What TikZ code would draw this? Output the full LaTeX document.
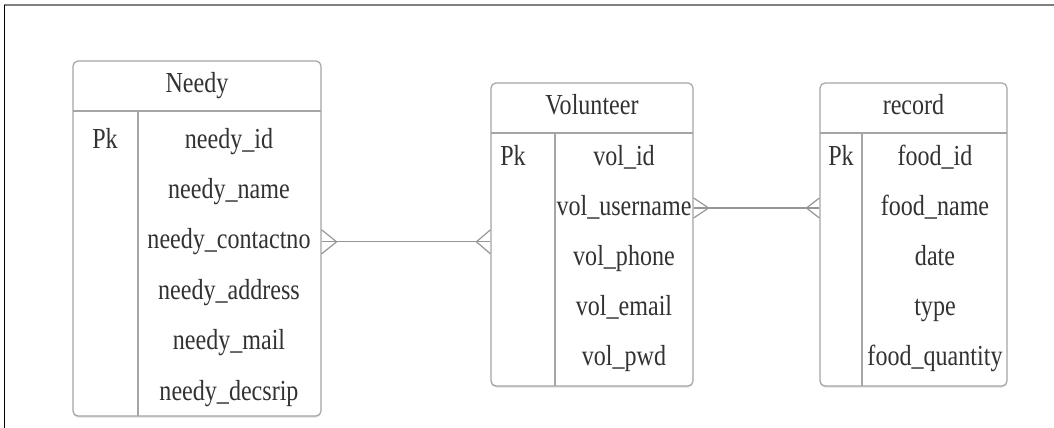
\documentclass[tikz,border=0pt]{standalone}
\usepackage{fontspec}
\setmainfont{Liberation Serif}[FakeStretch=0.83]
\usetikzlibrary{shadows}
\definecolor{tblgray}{RGB}{165,165,165}
\definecolor{txtgray}{RGB}{50,50,50}
\definecolor{linkgray}{RGB}{150,150,150}
\tikzset{
table/.style={rectangle, rounded corners=2.5pt, draw=tblgray, line width=0.6pt, fill=white, inner sep=0pt,
  drop shadow={opacity=0.25, shadow xshift=0pt, shadow yshift=-0.8pt}},
field/.style={text=txtgray, font=\fontsize{14.5}{16}\selectfont, inner sep=1pt, text height=0.72em, text depth=0.22em},
grid/.style={draw=tblgray, line width=0.6pt},
link/.style={draw=linkgray, line width=0.6pt}}

\begin{document}
\begin{tikzpicture}[x=0.5pt, y=-0.5pt, node distance=25.2pt]
\useasboundingbox (0,0) rectangle (1054,428);
\draw [gray, line width=0.8pt] (4,5) -- (1054,5);
\draw [black, line width=0.5pt] (4,5) -- (4,428);

% Needy
\node (needy) [table, minimum width=124pt, minimum height=177.5pt] at (197,238.5) {};
\draw [grid] (73,111) -- (321,111);
\draw [grid] (138,111) -- (138,416);
\node (needyhd) [field] at (197,87) {Needy};
\node (needypk) [field] at (105,143) {Pk};
\node (nid) [field] at (229,143) {needy\_id};
\node (nname) [field, below of=nid] {needy\_name};
\node (ncon) [field, below of=nname] {needy\_contactno};
\node (naddr) [field, below of=ncon] {needy\_address};
\node (nmail) [field, below of=naddr] {needy\_mail};
\node (ndesc) [field, below of=nmail] {needy\_decsrip};

% Volunteer
\node (vol) [table, minimum width=101pt, minimum height=151.5pt] at (592,234.5) {};
\draw [grid] (491,133) -- (693,133);
\draw [grid] (555,133) -- (555,386);
\node (volhd) [field] at (592,109) {Volunteer};
\node (volpk) [field] at (513,160) {Pk};
\node (vid) [field] at (624,160) {vol\_id};
\node (vuser) [field, below of=vid, node distance=25pt] {vol\_username};
\node (vphone) [field, below of=vuser, node distance=25pt] {vol\_phone};
\node (vmail) [field, below of=vphone, node distance=25pt] {vol\_email};
\node (vpwd) [field, below of=vmail, node distance=25pt] {vol\_pwd};

% record
\node (rec) [table, minimum width=93.5pt, minimum height=151.5pt] at (913.5,234.5) {};
\draw [grid] (820,133) -- (1007,133);
\draw [grid] (862,133) -- (862,386);
\node (rechd) [field] at (913.5,109) {record};
\node (recpk) [field] at (841,160) {Pk};
\node (fid) [field] at (935,160) {food\_id};
\node (fname) [field, below of=fid, node distance=25pt] {food\_name};
\node (fdate) [field, below of=fname, node distance=25pt] {date};
\node (ftype) [field, below of=fdate, node distance=25pt] {type};
\node (fqty) [field, below of=ftype, node distance=25pt] {food\_quantity};

% links
\coordinate (l1a) at ([yshift=1pt]needy.east |- ncon);
\coordinate (l1b) at ([yshift=1pt]vol.west |- ncon);
\coordinate (l2a) at ([yshift=1pt]vol.east |- vuser);
\coordinate (l2b) at ([yshift=1pt]rec.west |- vuser);
\draw [link] (l1a) -- (l1b);
\draw [link] ([yshift=6pt]l1a) -- ([xshift=7.5pt]l1a) -- ([yshift=-6pt]l1a);
\draw [link] ([yshift=6pt]l1b) -- ([xshift=-7pt]l1b) -- ([yshift=-6pt]l1b);
\draw [link] (l2a) -- (l2b);
\draw [link] ([yshift=5pt]l2a) -- ([xshift=7.5pt]l2a) -- ([yshift=-5pt]l2a);
\draw [link] ([yshift=5pt]l2b) -- ([xshift=-6.5pt]l2b) -- ([yshift=-5pt]l2b);
\end{tikzpicture}
\end{document}
